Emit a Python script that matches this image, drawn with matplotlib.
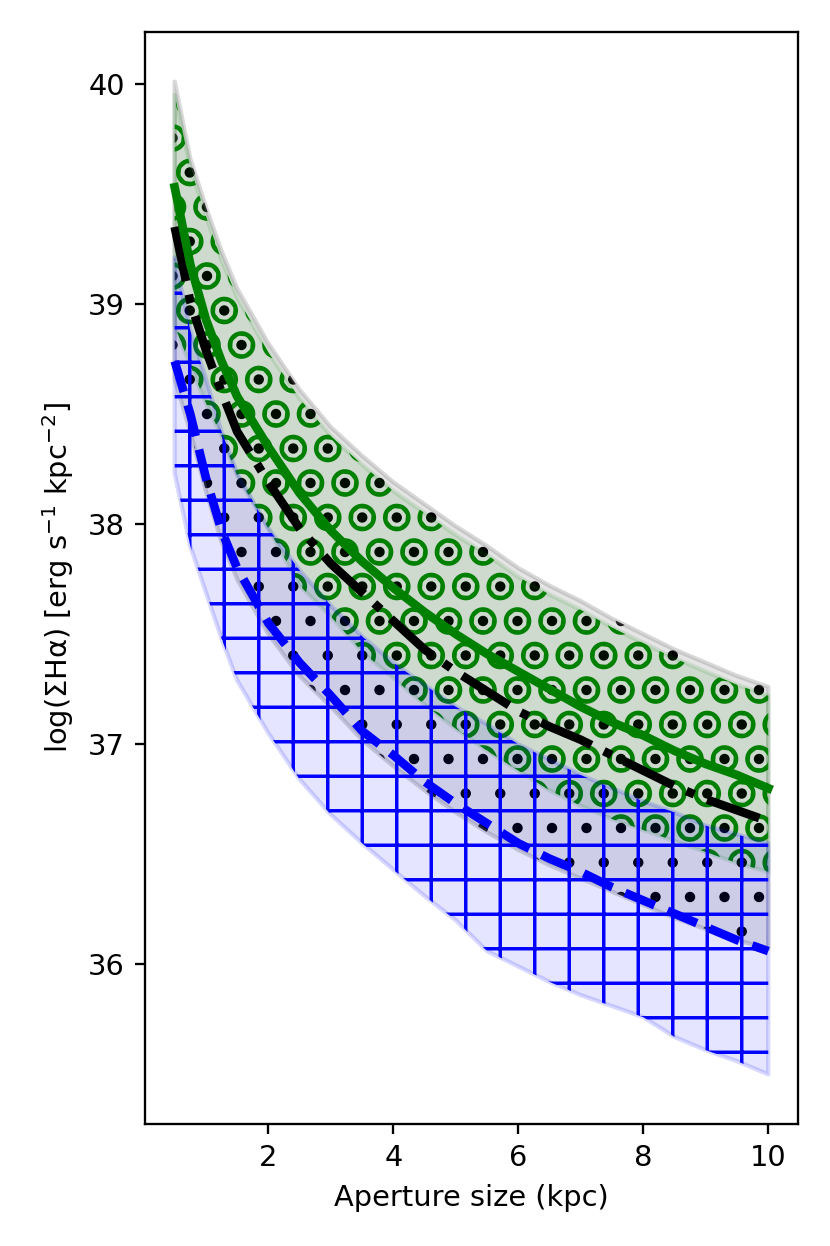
import matplotlib
matplotlib.use("Agg")
import matplotlib.pyplot as plt
import numpy as np

# Aperture sizes (kpc)
aperture = [0.5, 0.75, 1.0, 1.25, 1.5, 2.0, 2.5, 3.0, 3.5, 4.0, 4.5, 5.0, 5.5,
            6.0, 6.5, 7.0, 7.5, 8.0, 8.5, 9.0, 9.5, 10.0]

# Central lines
green_line = [39.53, 39.18, 38.93, 38.74, 38.58, 38.35, 38.14, 37.97, 37.83, 37.71, 37.60,
              37.50, 37.41, 37.33, 37.25, 37.17, 37.10, 37.04, 36.97, 36.91, 36.86, 36.80]
black_line = [39.35, 39.01, 38.79, 38.60, 38.42, 38.19, 37.98, 37.82, 37.69, 37.56, 37.43,
              37.33, 37.24, 37.15, 37.08, 37.02, 36.95, 36.88, 36.81, 36.75, 36.70, 36.65]
blue_line = [38.74, 38.50, 38.21, 37.97, 37.80, 37.55, 37.37, 37.22, 37.06, 36.95, 36.83,
             36.73, 36.64, 36.55, 36.48, 36.42, 36.35, 36.29, 36.23, 36.17, 36.11, 36.06]

# Bands
gray_hi = [40.01, 39.66, 39.44, 39.24, 39.07, 38.82, 38.61, 38.44, 38.31, 38.19, 38.09,
           37.99, 37.90, 37.80, 37.72, 37.65, 37.57, 37.50, 37.43, 37.37, 37.31, 37.26]
gray_lo = [38.66, 38.42, 38.15, 37.92, 37.75, 37.50, 37.31, 37.17, 37.02, 36.90, 36.79,
           36.69, 36.60, 36.52, 36.45, 36.39, 36.33, 36.27, 36.21, 36.16, 36.11, 36.07]
green_hi = [39.95, 39.62, 39.40, 39.20, 39.03, 38.78, 38.57, 38.40, 38.27, 38.15, 38.05,
            37.95, 37.86, 37.76, 37.68, 37.61, 37.53, 37.46, 37.39, 37.33, 37.27, 37.22]
green_lo = [38.90, 38.72, 38.55, 38.40, 38.22, 37.98, 37.72, 37.58, 37.42, 37.30, 37.18,
            37.07, 36.97, 36.88, 36.79, 36.72, 36.66, 36.61, 36.56, 36.51, 36.46, 36.42]
blue_hi = [39.21, 38.88, 38.66, 38.42, 38.23, 37.98, 37.79, 37.63, 37.49, 37.37, 37.27,
           37.17, 37.09, 37.00, 36.93, 36.86, 36.80, 36.74, 36.69, 36.63, 36.59, 36.55]
blue_lo = [38.23, 37.90, 37.69, 37.48, 37.29, 37.05, 36.84, 36.68, 36.55, 36.43, 36.31,
           36.20, 36.06, 35.99, 35.92, 35.86, 35.81, 35.76, 35.67, 35.61, 35.56, 35.50]

plt.rcParams['hatch.linewidth'] = 1.2

DPI = 207.5
fig = plt.figure(figsize=(830 / DPI, 1246 / DPI), dpi=DPI)
ax = fig.add_axes([0.1747, 0.0979, 0.9614 - 0.1747, 0.9743 - 0.0979])

x = np.array(aperture)

# gray band (black dot hatch)
ax.fill_between(x, gray_lo, gray_hi, facecolor=(0.5, 0.5, 0.5, 0.2),
                edgecolor='black', linewidth=0, hatch='.')
ax.fill_between(x, gray_lo, gray_hi, facecolor='none',
                edgecolor=(0.5, 0.5, 0.5, 0.3), linewidth=1.5)
# green band (large circles)
ax.fill_between(x, green_lo, green_hi, facecolor=(0.0, 0.5, 0.0, 0.1),
                edgecolor='green', linewidth=0, hatch='O')
ax.fill_between(x, green_lo, green_hi, facecolor='none',
                edgecolor=(0.0, 0.5, 0.0, 0.12), linewidth=1.5)
# blue band (plus hatch)
ax.fill_between(x, blue_lo, blue_hi, facecolor=(0.0, 0.0, 1.0, 0.1),
                edgecolor='blue', linewidth=0, hatch='+')
ax.fill_between(x, blue_lo, blue_hi, facecolor='none',
                edgecolor=(0.0, 0.0, 1.0, 0.15), linewidth=1.5)

ax.plot(x, blue_line, color='blue', linestyle='--', linewidth=3)
ax.plot(x, black_line, color='black', linestyle='-.', linewidth=3)
ax.plot(x, green_line, color='green', linestyle='-', linewidth=3)

ax.set_yticks([36, 37, 38, 39, 40])
ax.set_xticks([2, 4, 6, 8, 10])
ax.set_xlabel('Aperture size (kpc)')
ax.set_ylabel('log(ΣHα) [erg s$^{-1}$ kpc$^{-2}$]')

fig.savefig('out.png', dpi=DPI)
